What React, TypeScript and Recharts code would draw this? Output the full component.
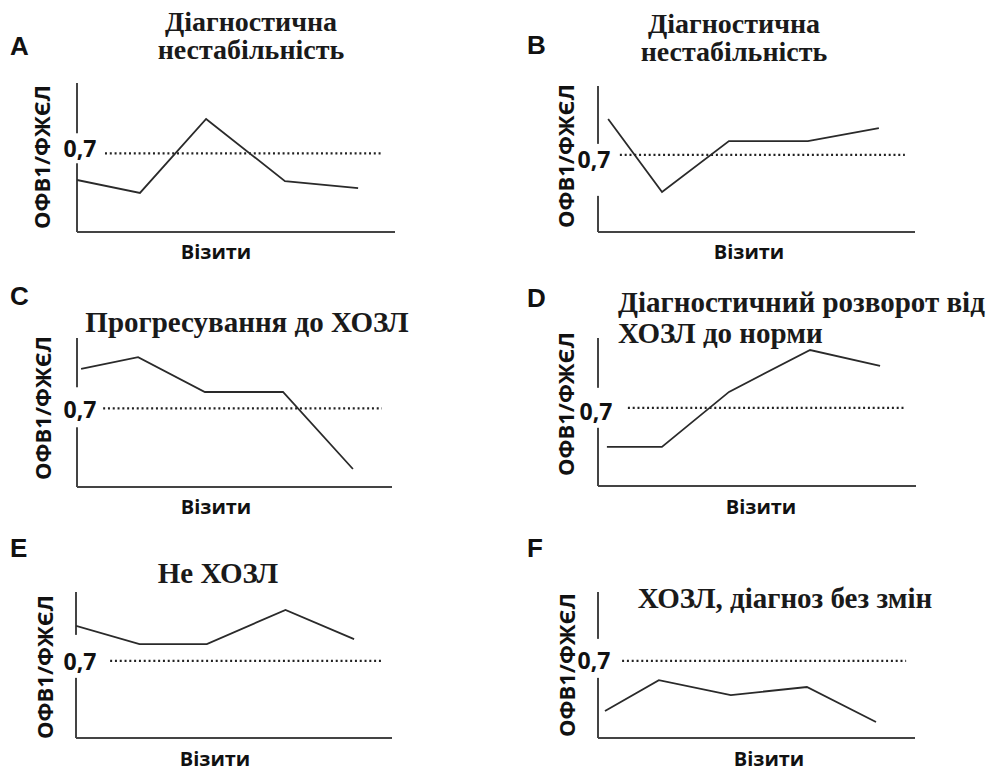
import React from 'react';
import { LineChart, Line, XAxis, YAxis, ReferenceLine, ReferenceDot } from 'recharts';

// Visit positions (0..100 along the "Візити" axis) and ОФВ1/ФЖЄЛ ratios per panel
const visitsA = [0, 19.8, 40.6, 65.4, 88.4];
const ratioA = [0.605, 0.559, 0.822, 0.601, 0.576];
const visitsB = [3.2, 20.2, 41.3, 66.2, 88.6];
const ratioB = [0.83, 0.565, 0.75, 0.75, 0.797];
const visitsC = [1.3, 19.4, 40.6, 65.4, 87.6];
const ratioC = [0.84, 0.882, 0.758, 0.758, 0.484];
const visitsD = [2.8, 20.1, 41.2, 66.7, 88.7];
const ratioD = [0.56, 0.56, 0.757, 0.907, 0.85];
const visitsE = [0, 20.1, 41.4, 66.3, 88.0];
const ratioE = [0.827, 0.761, 0.761, 0.885, 0.779];
const visitsF = [2.2, 19.2, 41.9, 65.9, 87.7];
const ratioF = [0.518, 0.63, 0.576, 0.605, 0.478];

// threshold and its dotted extent per panel
const THRESHOLD = 0.7;
const thresholdLabel = '0,7';
const thresholdSpanA = [8.8, 96.2];
const thresholdSpanB = [6.9, 96.8];
const thresholdSpanC = [8.3, 96.8];
const thresholdSpanD = [9.4, 96.5];
const thresholdSpanE = [10.8, 96.8];
const thresholdSpanF = [7.6, 97.2];

const panelLetters = ['A', 'B', 'C', 'D', 'E', 'F'];
const titlesA = ['Діагностична', 'нестабільність'];
const titlesB = ['Діагностична', 'нестабільність'];
const titlesC = ['Прогресування до ХОЗЛ'];
const titlesD = ['Діагностичний розворот від', 'ХОЗЛ до норми'];
const titlesE = ['Не ХОЗЛ'];
const titlesF = ['ХОЗЛ, діагноз без змін'];
const yLabel = 'ОФВ1/ФЖЄЛ';
const xLabel = 'Візити';

const Y_MIN = 0.42;
const Y_MAX = 0.95;

const SANS = '"Open Sans", "DejaVu Sans", sans-serif';
const SERIF = '"Liberation Serif", "Times New Roman", serif';
const LETTER_FONT = '"Liberation Sans", Arial, sans-serif';

// layout (pixels)
const layout = [
  { box: [77, 83, 395, 232], lab: { dx: 3, dy: 4, gap: [-20, 10] }, letter: [10, 55], yl: [41, 157], xl: [216, 259],
    title: { anchor: 'middle', x: 251, ys: [31, 59], size: 28 } },
  { box: [598, 86, 915, 232], lab: { dx: -4, dy: 13, gap: [-11, 41] }, letter: [527, 54], yl: [565, 156], xl: [749, 259],
    title: { anchor: 'middle', x: 734, ys: [33, 61], size: 28 } },
  { box: [77, 338, 392, 487], lab: { dx: 3, dy: 10, gap: [-21, 19] }, letter: [10, 305], yl: [42, 408], xl: [216, 514],
    title: { anchor: 'middle', x: 247, ys: [332], size: 29 } },
  { box: [598, 338, 916, 486], lab: { dx: -2, dy: 12, gap: [-20, 20] }, letter: [527, 307], yl: [565, 404], xl: [761, 514],
    title: { anchor: 'start', x: 618, ys: [312, 343], size: 29 } },
  { box: [76, 592, 392, 738], lab: { dx: 4, dy: 9, gap: [-26, 17] }, letter: [10, 557], yl: [44, 667], xl: [215, 766],
    title: { anchor: 'middle', x: 218, ys: [583], size: 29 } },
  { box: [598, 592, 915, 738], lab: { dx: -4, dy: 8, gap: [-22, 17] }, letter: [527, 557], yl: [566, 665], xl: [769, 766],
    title: { anchor: 'middle', x: 785, ys: [608], size: 29 } },
];

const panels = [
  { x: visitsA, y: ratioA, span: thresholdSpanA, titles: titlesA },
  { x: visitsB, y: ratioB, span: thresholdSpanB, titles: titlesB },
  { x: visitsC, y: ratioC, span: thresholdSpanC, titles: titlesC },
  { x: visitsD, y: ratioD, span: thresholdSpanD, titles: titlesD },
  { x: visitsE, y: ratioE, span: thresholdSpanE, titles: titlesE },
  { x: visitsF, y: ratioF, span: thresholdSpanF, titles: titlesF },
];

const M = 30;

function Panel({ idx }: { idx: number }) {
  const p = panels[idx];
  const l = layout[idx];
  const data = p.x.map((x, i) => ({ x, v: p.y[i] }));
  const [x0, y0, x1, y1] = l.box;
  const shape = (props: any) => {
    const { cx, cy } = props;
    return (
      <g>
        <rect x={cx - 7} y={cy + l.lab.gap[0]} width={14} height={l.lab.gap[1] - l.lab.gap[0]} fill="#fff" />
        <text x={cx + l.lab.dx} y={cy + l.lab.dy} textAnchor="middle" fontFamily={SANS} fontWeight={700} fontSize={23} fill="#111">
          {thresholdLabel}
        </text>
      </g>
    );
  };
  return (
    <div style={{ position: 'absolute', left: x0 - M, top: y0 - M }}>
      <LineChart width={x1 - x0 + 2 * M} height={y1 - y0 + 2 * M} data={data} margin={{ top: M, right: M, bottom: M, left: M }}>
        <XAxis type="number" dataKey="x" domain={[0, 100]} hide allowDataOverflow />
        <YAxis type="number" domain={[Y_MIN, Y_MAX]} hide allowDataOverflow />
        <ReferenceLine x={0} stroke="#444" strokeWidth={2} />
        <ReferenceLine y={Y_MIN} stroke="#444" strokeWidth={2} />
        <ReferenceLine
          segment={[{ x: p.span[0], y: THRESHOLD }, { x: p.span[1], y: THRESHOLD }]}
          stroke="#222"
          strokeWidth={2.2}
          strokeDasharray="2 2.8"
        />
        <Line type="linear" dataKey="v" stroke="#2a2a2a" strokeWidth={1.8} dot={false} activeDot={false} isAnimationActive={false} />
        <ReferenceDot x={0} y={THRESHOLD} shape={shape} />
      </LineChart>
    </div>
  );
}

export default function App() {
  return (
    <div style={{ position: 'absolute', left: 0, top: 0, width: 986, height: 774, background: '#fff' }}>
      {panels.map((_, i) => (
        <Panel key={i} idx={i} />
      ))}
      <svg width={986} height={774} style={{ position: 'absolute', left: 0, top: 0, pointerEvents: 'none' }}>
        {layout.map((l, i) => (
          <g key={i}>
            <text x={l.letter[0]} y={l.letter[1]} fontFamily={LETTER_FONT} fontWeight={700} fontSize={26} fill="#111">
              {panelLetters[i]}
            </text>
            <text
              x={l.title.x}
              y={l.title.ys[0]}
              textAnchor={l.title.anchor as any}
              fontFamily={SERIF}
              fontWeight={700}
              fontSize={l.title.size}
              fill="#1a1a1a"
            >
              {panels[i].titles.map((t, j) => (
                <tspan key={j} x={l.title.x} y={l.title.ys[j]}>
                  {t}
                </tspan>
              ))}
            </text>
            <text
              x={l.yl[0]}
              y={l.yl[1]}
              transform={`rotate(-90 ${l.yl[0]} ${l.yl[1]})`}
              textAnchor="middle"
              dominantBaseline="central"
              fontFamily={SANS}
              fontWeight={700}
              fontSize={22}
              fill="#111"
            >
              {yLabel}
            </text>
            <text x={l.xl[0]} y={l.xl[1]} textAnchor="middle" fontFamily={SANS} fontWeight={700} fontSize={20} fill="#111">
              {xLabel}
            </text>
          </g>
        ))}
      </svg>
    </div>
  );
}
